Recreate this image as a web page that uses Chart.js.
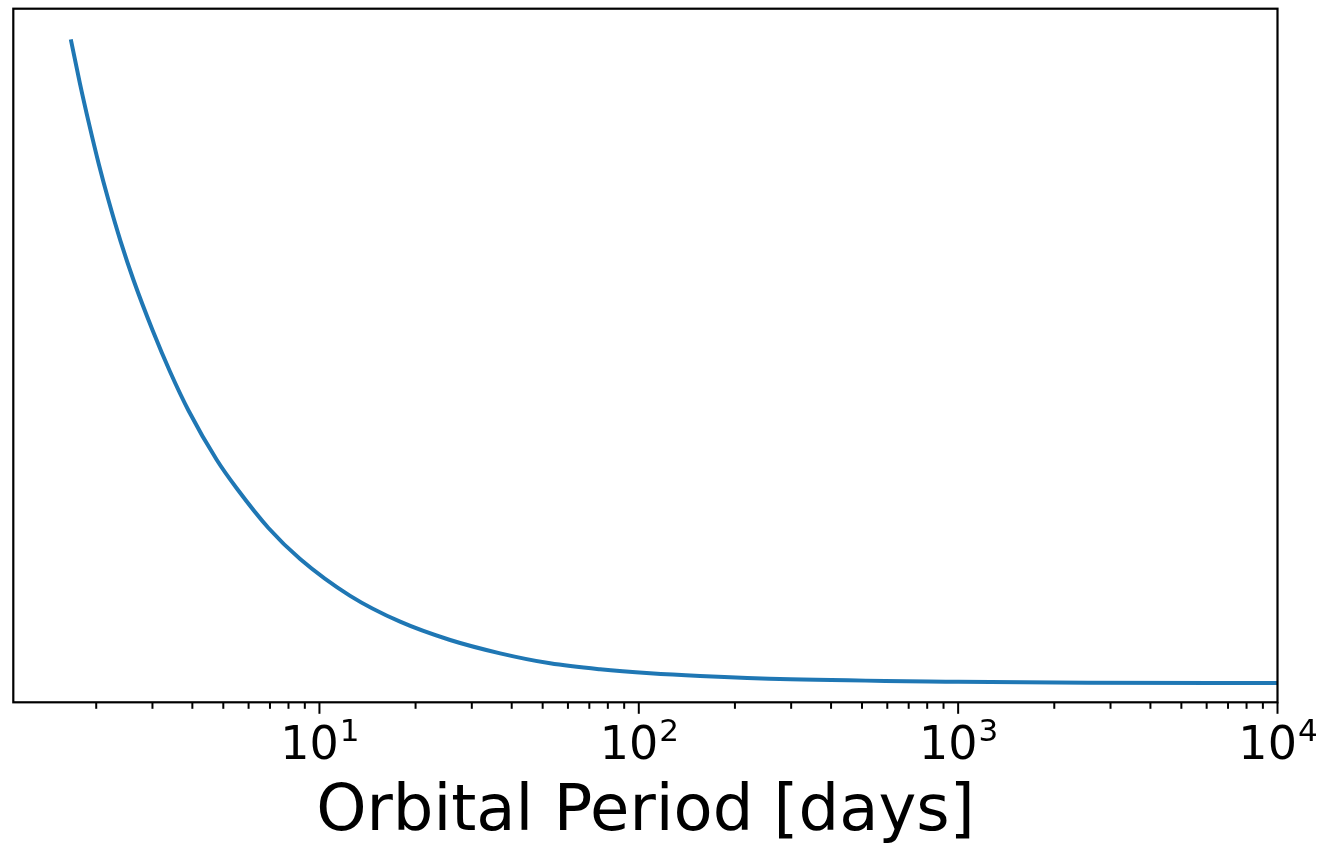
<!DOCTYPE html>
<html>
<head>
<meta charset="utf-8">
<script src="https://cdn.jsdelivr.net/npm/chart.js@4/dist/chart.umd.min.js"></script>
<style>
  html, body { margin: 0; padding: 0; background: #fff; }
  #c { display: block; }
</style>
</head>
<body>
<canvas id="c" width="1321" height="843"></canvas>
<script>
// ---- data ----
const periods = [1.670, 1.776, 1.901, 2.038, 2.183, 2.386, 2.620, 3.005, 3.409, 3.890, 4.772, 5.513, 6.924, 8.700, 12.48, 17.89, 25.66, 36.80, 52.76, 75.65, 108.5, 155.6, 297.7, 1000, 2551, 10000];
const values  = [95.30, 89.35, 83.32, 77.58, 72.45, 66.42, 60.81, 53.60, 47.62, 42.07, 34.93, 30.82, 25.13, 20.66, 15.35, 11.62, 8.98, 7.06, 5.62, 4.76, 4.18, 3.79, 3.32, 2.97, 2.83, 2.78];
const majorTicks = [10, 100, 1000, 10000];
const tickBase = '10';
const tickExponents = ['1', '2', '3', '4'];
const xLabel = 'Orbital Period [days]';
const xMin = 1.1, xMax = 10000;
const yMin = 0, yMax = 100;

// tick positions (2..9 x 10^n minor, 10^n major)
const tickValues = [];
for (let d = 1; d <= 1000; d *= 10) {
  for (let m = 2; m <= 9; m++) tickValues.push(m * d);
  tickValues.push(d * 10);
}

const FONT = "'DejaVu Sans', 'Liberation Sans', sans-serif";

const frameTicks = {
  id: 'frameTicks',
  afterDraw(chart) {
    const { ctx, chartArea: a, scales: { x } } = chart;
    ctx.save();
    ctx.strokeStyle = '#000';
    ctx.lineWidth = 2;
    for (const t of x.ticks) {
      if (t.value < xMin || t.value > xMax) continue;
      const px = x.getPixelForValue(t.value);
      const len = t.major ? 11.5 : 6.5;
      ctx.beginPath();
      ctx.moveTo(px, a.bottom);
      ctx.lineTo(px, a.bottom + len);
      ctx.stroke();
    }
    ctx.lineWidth = 2.2;
    ctx.strokeRect(a.left, a.top, a.right - a.left, a.bottom - a.top);
    // tick labels 10^n
    ctx.fillStyle = '#000';
    ctx.textBaseline = 'alphabetic';
    ctx.textAlign = 'left';
    majorTicks.forEach((v, i) => {
      const px = x.getPixelForValue(v);
      ctx.font = '46px ' + FONT;
      const wb = ctx.measureText(tickBase).width;
      ctx.font = '31px ' + FONT;
      const we = ctx.measureText(tickExponents[i]).width;
      const x0 = px - (wb + we) / 2;
      ctx.font = '46px ' + FONT;
      ctx.fillText(tickBase, x0, a.bottom + 57);
      ctx.font = '31px ' + FONT;
      ctx.fillText(tickExponents[i], x0 + wb + 1, a.bottom + 38.5);
    });
    ctx.restore();
  }
};

new Chart(document.getElementById('c'), {
  type: 'line',
  data: {
    datasets: [{
      data: periods.map((p, i) => ({ x: p, y: values[i] })),
      borderColor: '#1f77b4',
      borderWidth: 4,
      borderCapStyle: 'square',
      pointRadius: 0,
      fill: false,
      cubicInterpolationMode: 'monotone'
    }]
  },
  options: {
    responsive: false,
    animation: false,
    layout: { padding: { left: 13.3, right: 43.5, top: 8.7, bottom: 0 } },
    plugins: { legend: { display: false }, tooltip: { enabled: false } },
    scales: {
      x: {
        type: 'logarithmic',
        min: xMin,
        max: xMax,
        afterBuildTicks: s => { s.ticks = tickValues.map(v => ({ value: v, major: majorTicks.includes(v) })); },
        grid: { display: false, drawTicks: false },
        border: { display: false },
        ticks: { display: false },
        title: {
          display: true,
          text: xLabel,
          color: '#000',
          font: { family: FONT, size: 64, lineHeight: 1 },
          padding: { top: 79.5, bottom: -2.8 }
        }
      },
      y: {
        type: 'linear',
        min: yMin,
        max: yMax,
        display: false
      }
    }
  },
  plugins: [frameTicks]
});
</script>
</body>
</html>
